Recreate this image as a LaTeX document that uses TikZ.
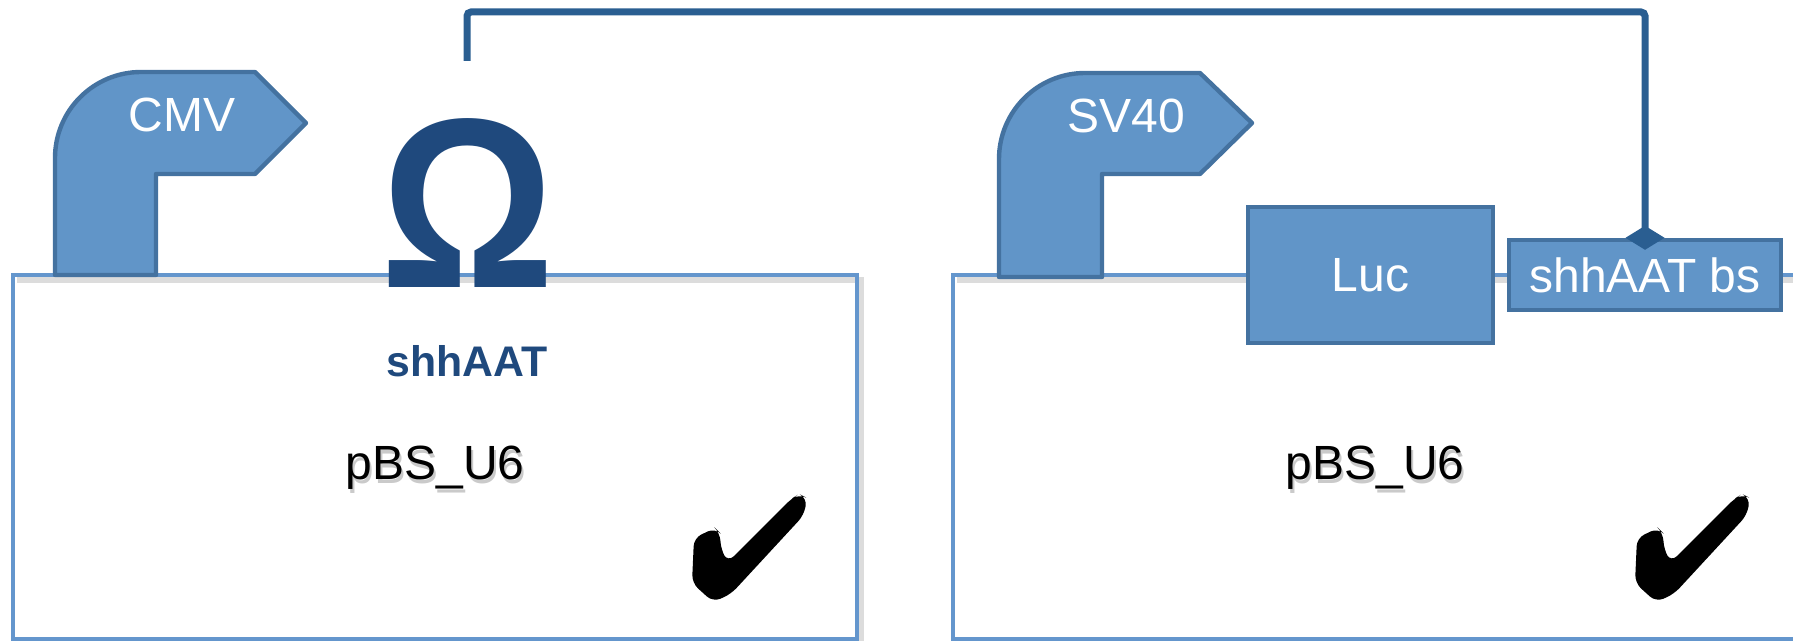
\documentclass[tikz,border=0pt]{standalone}
\usepackage{fontspec}
\setmainfont{Liberation Sans}
\usetikzlibrary{arrows.meta}
\definecolor{promfill}{RGB}{97,149,200}
\definecolor{promedge}{RGB}{68,114,160}
\definecolor{plasline}{RGB}{100,150,205}
\definecolor{fbline}{RGB}{42,94,145}
\definecolor{darkblue}{RGB}{31,73,125}
\newcommand\mytick{(715,528) -- (694,538) -- (692,583) -- (713,602) -- (731,594) -- (804,515) -- (807,498) -- (799,494) -- (791,499) -- (728,562) -- (721,550) -- (720,533) -- cycle}
\tikzset{
 promoter/.style={fill=promfill, draw=promedge, line width=2.2pt, line join=round},
 partbox/.style={rectangle, fill=promfill, draw=promedge, line width=2.2pt, text=white,
   font=\fontsize{24}{24}\selectfont, inner sep=0pt},
 plasmid/.style={draw=plasline, line width=1.6pt},
 shadowline/.style={draw=black!30, line width=3pt, opacity=0.45},
 lbl/.style={font=\fontsize{24}{24}\selectfont, anchor=base, inner sep=0pt},
 fb/.style={draw=fbline, line width=3.5pt, rounded corners=2pt},
 tickfill/.style={fill=black, rounded corners=4pt}
}
\begin{document}
\begin{tikzpicture}[x=0.5pt,y=-0.5pt]
\useasboundingbox (0,0) rectangle (1793,641);
\clip (0,0) rectangle (1793,641);
% plasmid boxes (with soft shadow)
\draw[shadowline] (17,280) -- (861,280) -- (861,660);
\draw[shadowline] (957,280) -- (1850,280);
\draw[plasmid] (13,275) rectangle (857,639);
\draw[plasmid] (953,275) rectangle (1850,639);
% CMV promoter
\draw[promoter] (55,275) -- (55,158) .. controls (55,110.5) and (93.5,72) .. (141,72) -- (255,72) -- (306,123) -- (255,174) -- (156,174) -- (156,275) -- cycle;
\node[lbl, text=white] (cmv) at (182,132) {CMV};
% SV40 promoter
\draw[promoter] (999,277) -- (999,159) .. controls (999,111.5) and (1037.5,73) .. (1085,73) -- (1200,73) -- (1252,123) -- (1200,174) -- (1102,174) -- (1102,277) -- cycle;
\node[lbl, text=white] (sv40) at (1126,133) {SV40};
% terminator
\node[anchor=base, inner sep=0pt, text=darkblue, xscale=0.9, font=\fontsize{121}{121}\selectfont\bfseries] (omega) at (467.5,288) {Ω};
\node[anchor=base, inner sep=0pt, text=darkblue, font=\fontsize{21.4}{21.4}\selectfont\bfseries] (shh) at (467,377) {shhAAT};
% parts on right plasmid
\node[partbox, minimum width=122.5pt, minimum height=68pt] (luc) at (1370.5,275) {Luc};
\node[partbox, minimum width=136pt, minimum height=35pt] (bs) at (1645,275) {shhAAT bs};
% plasmid labels
\node[lbl, text=black!35, opacity=0.6] at (437,483) {pBS\_U6};
\node[lbl] (pbs1) at (435,480) {pBS\_U6};
\node[lbl, text=black!35, opacity=0.6] at (1377,483) {pBS\_U6};
\node[lbl] (pbs2) at (1375,480) {pBS\_U6};
% check marks
\fill[tickfill] \mytick;
\begin{scope}[shift={(943,0)}]
\fill[tickfill] \mytick;
\end{scope}
% feedback connector
\coordinate (fbstart) at (467,61);
\draw[fb, -{Diamond[length=12pt,width=19.5pt]}, shorten >=-6pt] (fbstart) -- ++(0,-49) -| (bs.north);
\end{tikzpicture}
\end{document}
